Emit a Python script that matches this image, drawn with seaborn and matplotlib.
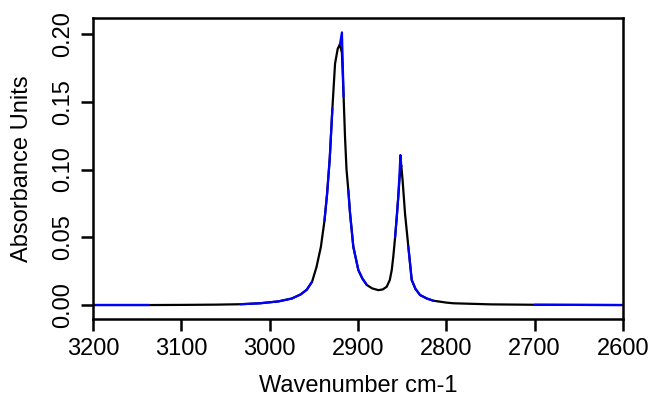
import numpy as np
import pandas as pd
import matplotlib
matplotlib.use("Agg")
import matplotlib.pyplot as plt
import seaborn as sns

# ---- data ----
wavenumber = [3200, 3137, 3100, 3060, 3033, 3011, 2990, 2975, 2965, 2958, 2952,
              2947, 2942, 2938, 2935, 2932, 2929, 2926, 2923, 2920.5, 2918.2, 2916.3,
              2914.7, 2913, 2911, 2909, 2905.3, 2902, 2899.6, 2895, 2890, 2884, 2877,
              2872, 2867.5, 2864, 2861.8, 2860, 2858, 2856, 2854.4, 2853, 2852, 2851,
              2849.5, 2846.8, 2843, 2839.2, 2835, 2829.8, 2822, 2814.7, 2800, 2792,
              2750, 2700, 2650, 2600]

absorb_black = [0.0000, 0.0000, 0.0001, 0.0003, 0.0006, 0.0013, 0.0027, 0.0048, 0.0078, 0.0113, 0.0172,
                0.0280, 0.0430, 0.0620, 0.0820, 0.1080, 0.1450, 0.1780, 0.1890, 0.1925, 0.1860, 0.1540,
                0.1240, 0.1000, 0.0850, 0.0677, 0.0430, 0.0330, 0.0258, 0.0195, 0.0148, 0.0123, 0.0110,
                0.0115, 0.0135, 0.0185, 0.0258, 0.0360, 0.0500, 0.0660, 0.0800, 0.0930, 0.1000, 0.1030,
                0.0920, 0.0677, 0.0430, 0.0185, 0.0120, 0.0074, 0.0048, 0.0032, 0.0018, 0.0013,
                0.0005, 0.0002, 0.0001, 0.0000]

N = None
absorb_blue = [0.0000, 0.0000, N, N, 0.0006, 0.0013, 0.0027, 0.0048, 0.0078, 0.0113, 0.0172,
               N, N, 0.0620, 0.0820, 0.1080, 0.1450, N, N, 0.1920, 0.2012, 0.1540,
               N, N, 0.0850, 0.0677, 0.0430, 0.0330, 0.0258, 0.0195, 0.0148, N, N,
               N, N, N, N, N, 0.0500, 0.0660, 0.0800, 0.0970, 0.1107, 0.1030,
               N, N, 0.0430, 0.0185, 0.0120, 0.0074, 0.0048, 0.0032, N, N,
               N, 0.0002, 0.0001, 0.0000]

x_ticks = [3200, 3100, 3000, 2900, 2800, 2700, 2600]
y_ticks = [0.00, 0.05, 0.10, 0.15, 0.20]
x_label = "Wavenumber cm-1"
y_label = "Absorbance Units"

# ---- frames ----
black_df = pd.DataFrame({"wn": wavenumber, "a": absorb_black})

rows = []
seg = 0
prev = None
for w, a in zip(wavenumber, absorb_blue):
    if a is None:
        if prev is not None:
            seg += 1
        prev = None
        continue
    rows.append({"wn": w, "a": a, "seg": seg})
    prev = a
blue_df = pd.DataFrame(rows)

# ---- plot ----
sns.set_style("white")
plt.rcParams['font.family'] = ['Liberation Sans', 'DejaVu Sans']

fig = plt.figure(figsize=(6.49, 3.98), dpi=100)
ax = fig.add_axes([93/649, 1-319/398, (623-93)/649, (319-18)/398])

sns.lineplot(data=black_df, x="wn", y="a", color="black", lw=1.6, sort=False,
             estimator=None, ax=ax)
sns.lineplot(data=blue_df, x="wn", y="a", units="seg", estimator=None, sort=False,
             color="#0000FF", lw=1.6, ax=ax)

ax.set_xlim(3200, 2600)
ax.set_ylim(-0.0103, 0.2118)
ax.set_xticks(x_ticks)
ax.set_xticklabels([str(t) for t in x_ticks])
ax.set_yticks(y_ticks)
ax.set_yticklabels([f"{t:.2f}" for t in y_ticks])

for s in ax.spines.values():
    s.set_visible(True)
    s.set_color("black")
    s.set_linewidth(1.8)

ax.tick_params(axis="both", which="major", bottom=True, left=True, top=False, right=False,
               direction="out", length=8.5, width=1.8, color="black",
               labelsize=17, labelcolor="black", pad=5)
for lab in ax.get_yticklabels():
    lab.set_rotation(90)
    lab.set_va("center")
    lab.set_ha("right")

ax.set_xlabel(x_label, fontsize=17, color="black")
ax.set_ylabel(y_label, fontsize=17, color="black")
ax.xaxis.set_label_coords(0.5, (319-386)/301)
ax.xaxis.label.set_va("center")
ax.yaxis.set_label_coords((22-93)/530, 0.5)
ax.yaxis.label.set_va("center")

fig.savefig("out.png", dpi=100)
